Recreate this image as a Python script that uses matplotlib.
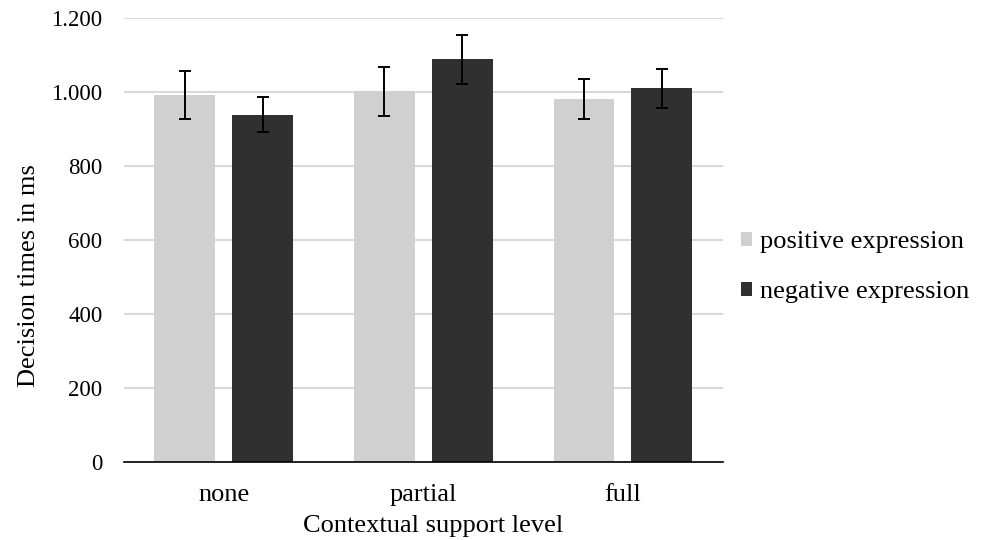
import numpy as np
import matplotlib
matplotlib.use("Agg")
import matplotlib.pyplot as plt
from matplotlib.ticker import FuncFormatter

plt.rcParams['font.family'] = ['Liberation Serif', 'DejaVu Serif']

levels = ["none", "partial", "full"]
positive = [992, 1002, 982]
positive_err = [65, 66, 54]
negative = [939, 1088, 1010]
negative_err = [48, 66, 53]

fig = plt.figure(figsize=(9.86, 5.4), dpi=100)
ax = fig.add_axes([0.1258, 0.1444, 0.6072, 0.8223])

x = np.arange(len(levels))
w = 0.305
off = 0.195
ekw = dict(ecolor='black', elinewidth=1.4, capsize=4, capthick=1.4)
ax.bar(x - off, positive, w, yerr=positive_err, color='#d0d0d0',
       label='positive expression', error_kw=ekw, zorder=2)
ax.bar(x + off, negative, w, yerr=negative_err, color='#303030',
       label='negative expression', error_kw=ekw, zorder=2)

ax.set_xlim(-0.5, 2.5)
ax.set_ylim(0, 1200)
ax.set_yticks(range(0, 1201, 200))
ax.yaxis.set_major_formatter(FuncFormatter(lambda v, p: f"{int(v):,}".replace(',', '.')))
ax.set_xticks(x)
ax.set_xticklabels(levels)
ax.grid(axis='y', color='#d9d9d9', linewidth=1.5, zorder=0)
ax.set_axisbelow(True)
for s in ['top', 'right', 'left']:
    ax.spines[s].set_visible(False)
ax.spines['bottom'].set_color('black')
ax.spines['bottom'].set_linewidth(1.2)
ax.tick_params(axis='both', length=0)
ax.tick_params(axis='y', pad=15.5, labelsize=16.5)
ax.tick_params(axis='x', pad=16, labelsize=19)
ax.set_xlabel("Contextual support level", fontsize=19)
ax.set_ylabel("Decision times in ms", fontsize=19)
ax.xaxis.set_label_coords(0.516, -0.120)
ax.yaxis.set_label_coords(-0.140, 0.419)

fig.legend(loc='center left', bbox_to_anchor=(0.727, 0.505), frameon=False,
           fontsize=19, handlelength=0.45, handleheight=0.45, handletextpad=0.3,
           labelspacing=1.05)

fig.savefig("out.png", dpi=100)
